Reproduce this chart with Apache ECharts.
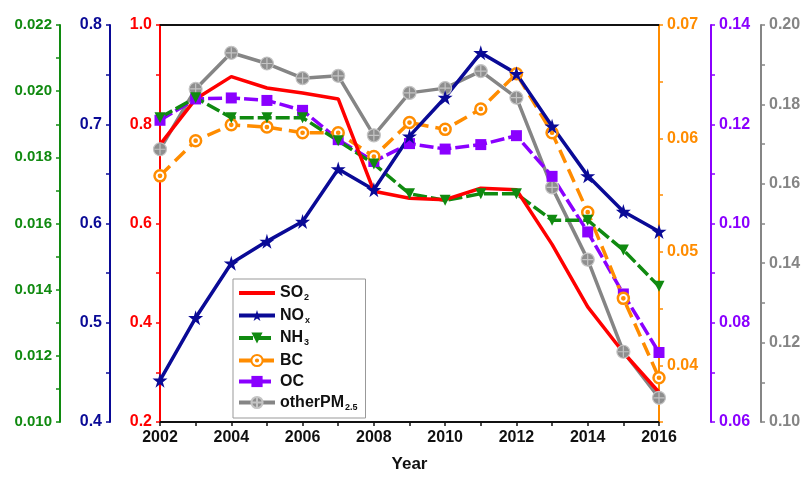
<!DOCTYPE html>
<html>
<head>
<meta charset="utf-8">
<script src="https://cdn.jsdelivr.net/npm/echarts@6/dist/echarts.min.js"></script>
<style>
  html, body { margin: 0; padding: 0; background: #fff; }
  #chart { width: 804px; height: 478px; }
</style>
</head>
<body>
<div id="chart"></div>
<script>
// 年份
var years = ["2002","2003","2004","2005","2006","2007","2008","2009","2010","2011","2012","2013","2014","2015","2016"];
// 各污染物数值
var so2 = [0.759, 0.851, 0.896, 0.873, 0.863, 0.851, 0.665, 0.651, 0.648, 0.671, 0.668, 0.558, 0.432, 0.340, 0.260];
var nox = [0.442, 0.505, 0.560, 0.582, 0.602, 0.655, 0.634, 0.688, 0.727, 0.772, 0.751, 0.698, 0.648, 0.612, 0.592];
var nh3 = [0.0192, 0.0198, 0.0192, 0.0192, 0.0192, 0.0185, 0.0178, 0.0169, 0.0167, 0.0169, 0.0169, 0.0161, 0.0161, 0.0152, 0.0141];
var bc = [0.0567, 0.0598, 0.0612, 0.0610, 0.0605, 0.0605, 0.0584, 0.0614, 0.0608, 0.0626, 0.0657, 0.0605, 0.0535, 0.0459, 0.0389];
var oc = [0.1208, 0.1251, 0.1253, 0.1248, 0.1228, 0.1169, 0.1125, 0.1161, 0.1150, 0.1159, 0.1177, 0.1095, 0.0983, 0.0858, 0.0740];
var otherPM = [0.1687, 0.1839, 0.1930, 0.1903, 0.1866, 0.1872, 0.1722, 0.1829, 0.1841, 0.1884, 0.1817, 0.1591, 0.1409, 0.1177, 0.1061];

(function(){
    var font = "Liberation Sans, Arial, sans-serif";
    var cRed = "#ff0000", cBlue = "#0a0a96", cGreen = "#108a10",
        cOrange = "#ff8c00", cPurple = "#8a00ff", cGray = "#858585";
    //自定义标记
    var star = "path://M50,0 L61,35 L98,35 L68,57 L79,91 L50,70 L21,91 L32,57 L2,35 L39,35 Z";
    var ringDot = "path://M50,0 A50,50 0 1,1 50,100 A50,50 0 1,1 50,0 Z M50,40 A10,10 0 1,1 50,60 A10,10 0 1,1 50,40 Z";
    var crossCircle = "path://M50,0 A50,50 0 1,1 50,100 A50,50 0 1,1 50,0 Z M50,8 L50,92 M8,50 L92,50";
    var lineIcon = "path://M0,0 L36,0 L36,4 L0,4 Z";

    //生成一个y轴
    function yAx(pos, offset, color, min, max, interval, digits, size){
      return {
        type: "value",
        position: pos,
        offset: offset,
        min: min,
        max: max,
        interval: interval,
        splitLine: { show: false },
        axisLine: { show: true, lineStyle: { color: color, width: 2 } },
        axisTick: { show: true, length: 4, lineStyle: { color: color, width: 1.5 } },
        minorTick: { show: true, splitNumber: 2, length: 4, lineStyle: { color: color, width: 1.5 } },
        axisLabel: {
          color: color,
          fontFamily: font,
          fontWeight: "bold",
          fontSize: size,
          margin: 8,
          formatter: function(v){ return v.toFixed(digits); }
        }
      };
    }

    var myChart = echarts.init(document.getElementById("chart"));

    //橙色轴从0.035开始，只在0.01的倍数处显示标签
    var orangeAxis = yAx("right", 0, cOrange, 0.035, 0.07, 0.005, 2, 16);
    orangeAxis.minorTick.show = false;
    orangeAxis.axisLabel.formatter = function(v){
      var k = Math.round(v * 1000);
      return (k % 10 === 0) ? v.toFixed(2) : "";
    };

    var names = {
      "SO2": "{n|SO}{s|2}",
      "NOx": "{n|NO}{s|x}",
      "NH3": "{n|NH}{s|3}",
      "BC": "{n|BC}",
      "OC": "{n|OC}",
      "otherPM2.5": "{n|otherPM}{s|2.5}"
    };

    var option = {
      backgroundColor: "#fff",
      animation: false,
      grid: { left: 160, right: 145, top: 25, bottom: 49 },
      legend: {
        orient: "vertical",
        left: 233,
        top: 279,
        itemWidth: 36,
        itemHeight: 14,
        itemGap: 5,
        borderColor: "#999",
        borderWidth: 1,
        padding: [6, 8, 6, 4],
        lineStyle: { width: 4 },
        data: [
          { name: "SO2", icon: lineIcon },
          "NOx", "NH3", "BC", "OC", "otherPM2.5"
        ],
        formatter: function(name){ return names[name]; },
        textStyle: {
          fontFamily: font,
          rich: {
            n: { fontSize: 16, fontWeight: "bold", color: "#111", fontFamily: font },
            s: { fontSize: 9, fontWeight: "bold", color: "#111", fontFamily: font, padding: [10, 0, 0, 1] }
          }
        }
      },
      xAxis: [
        {
          type: "category",
          data: years,
          boundaryGap: false,
          name: "Year",
          nameLocation: "middle",
          nameGap: 34,
          nameTextStyle: { fontFamily: font, fontWeight: "bold", fontSize: 17, color: "#111" },
          axisLine: { lineStyle: { color: "#111", width: 2 } },
          axisTick: { interval: 0, length: 4, lineStyle: { color: "#111", width: 1.5 } },
          axisLabel: { interval: 1, color: "#111", fontFamily: font, fontWeight: "bold", fontSize: 16, margin: 8 },
          splitLine: { show: false }
        },
        {
          //上边框
          type: "category",
          data: years,
          position: "top",
          boundaryGap: false,
          axisLine: { lineStyle: { color: "#111", width: 2 } },
          axisTick: { show: false },
          axisLabel: { show: false }
        }
      ],
      yAxis: [
        yAx("left", 0, cRed, 0.2, 1.0, 0.2, 1, 16),
        yAx("left", 50, cBlue, 0.4, 0.8, 0.1, 1, 16),
        yAx("left", 100, cGreen, 0.010, 0.022, 0.002, 3, 15),
        orangeAxis,
        yAx("right", 52, cPurple, 0.06, 0.14, 0.02, 2, 16),
        yAx("right", 102, cGray, 0.10, 0.20, 0.02, 2, 16)
      ],
      series: [
        {
          name: "otherPM2.5", type: "line", yAxisIndex: 5, data: otherPM,
          color: cGray, symbol: crossCircle, symbolSize: 13,
          lineStyle: { width: 3.5, color: cGray },
          itemStyle: { color: "#8e8e8e", borderColor: "#c4c4c4", borderWidth: 1.2 }
        },
        {
          name: "OC", type: "line", yAxisIndex: 4, data: oc,
          color: cPurple, symbol: "rect", symbolSize: 11,
          lineStyle: { width: 3.5, color: cPurple, type: [14, 4] },
          itemStyle: { color: cPurple }
        },
        {
          name: "BC", type: "line", yAxisIndex: 3, data: bc,
          color: cOrange, symbol: ringDot, symbolSize: 11,
          lineStyle: { width: 3.5, color: cOrange, type: [14, 7] },
          itemStyle: { color: "#fff", borderColor: cOrange, borderWidth: 2.5 }
        },
        {
          name: "NH3", type: "line", yAxisIndex: 2, data: nh3,
          color: cGreen, symbol: "triangle", symbolRotate: 180, symbolSize: 11,
          lineStyle: { width: 3.5, color: cGreen, type: [14, 4] },
          itemStyle: { color: cGreen }
        },
        {
          name: "NOx", type: "line", yAxisIndex: 1, data: nox,
          color: cBlue, symbol: star, symbolSize: 15,
          lineStyle: { width: 3.5, color: cBlue },
          itemStyle: { color: cBlue }
        },
        {
          name: "SO2", type: "line", yAxisIndex: 0, data: so2,
          color: cRed, symbol: "none",
          lineStyle: { width: 3.5, color: cRed },
          itemStyle: { color: cRed }
        }
      ]
    };

    myChart.setOption(option);

    window.addEventListener("resize", function(){
      myChart.resize();
    });
})();
</script>
</body>
</html>
